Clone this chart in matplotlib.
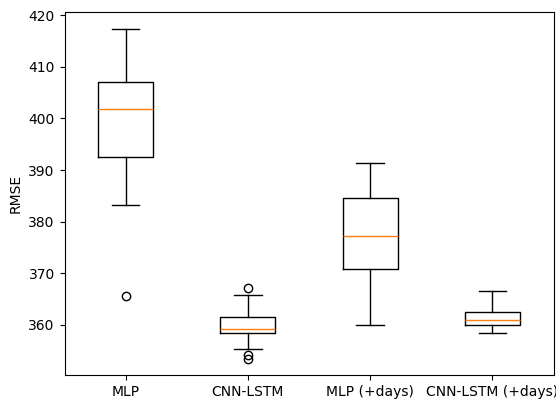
import matplotlib
matplotlib.use("Agg")
import matplotlib.pyplot as plt

labels = ["MLP", "CNN-LSTM", "MLP (+days)", "CNN-LSTM (+days)"]
whislo = [383.3, 355.3, 360.0, 358.5]
q1 = [392.6, 358.5, 370.8, 359.9]
med = [401.8, 359.3, 377.3, 360.9]
q3 = [407.1, 361.6, 384.5, 362.6]
whishi = [417.4, 365.8, 391.3, 366.6]
fliers = [[365.6], [367.2, 354.1, 353.5], [], []]

stats = []
for i in range(len(labels)):
    stats.append(dict(label=labels[i], whislo=whislo[i], q1=q1[i], med=med[i],
                      q3=q3[i], whishi=whishi[i], fliers=fliers[i]))

fig = plt.figure(figsize=(5.56, 4.01), dpi=100)
ax = fig.add_axes([64.5 / 556, 1 - 375 / 401, (553.5 - 64.5) / 556, (375 - 12) / 401])
ax.bxp(stats, widths=0.45)
ax.set_ylabel("RMSE")
fig.savefig("out.png", dpi=100)
